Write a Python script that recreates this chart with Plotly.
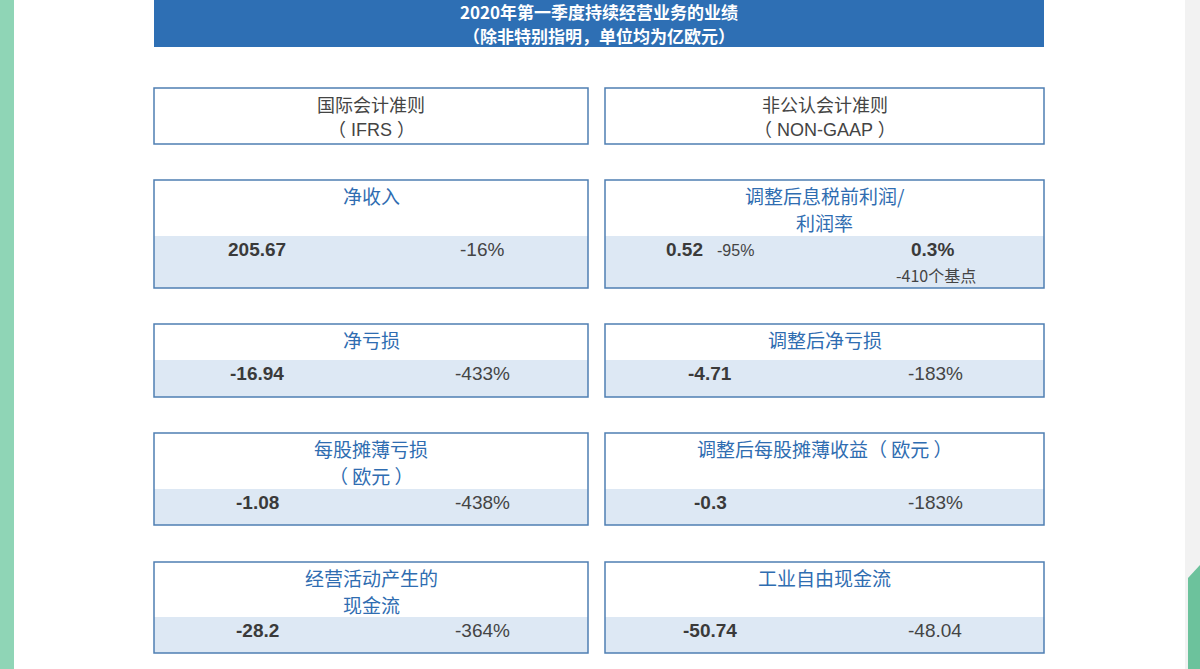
import plotly.graph_objects as go

header_lines = ["2020年第一季度持续经营业务的业绩", "（除非特别指明，单位均为亿欧元）"]
col_titles = [["国际会计准则", "（ IFRS ）"], ["非公认会计准则", "（ NON-GAAP ）"]]
left_titles = ["净收入", "净亏损", "每股摊薄亏损<br>（ 欧元 ）", "经营活动产生的<br>现金流"]
left_values = ["205.67", "-16.94", "-1.08", "-28.2"]
left_changes = ["-16%", "-433%", "-438%", "-364%"]
right_titles = ["调整后息税前利润/<br>利润率", "调整后净亏损", "调整后每股摊薄收益（ 欧元 ）", "工业自由现金流"]
right_values = ["0.52", "-4.71", "-0.3", "-50.74"]
right_changes = ["", "-183%", "-183%", "-48.04"]
margin_value = "0.3%"
margin_change = "-410个基点"
ebit_change = "-95%"

CJK = "Noto Sans CJK SC"
NUM = "Liberation Sans, Noto Sans CJK SC"
BLUE = "#2f6db1"
BORDER = "#4f7fb3"
BAND = "#dde8f4"

fig = go.Figure()
shapes = []
ann = []

def A(x, y, text, color, size, family=CJK):
    ann.append(dict(x=x, y=y, text=text, font=dict(color=color, size=size, family=family),
                    xref="x", yref="y", showarrow=False, xanchor="center", yanchor="middle"))

shapes.append(dict(type="rect", x0=0, x1=14, y0=0, y1=669, fillcolor="#8fd5b6", line_width=0, layer="below"))
shapes.append(dict(type="rect", x0=1185, x1=1200, y0=0, y1=669, fillcolor="#f2f2f2", line_width=0, layer="below"))
shapes.append(dict(type="path", path="M 1200 565 L 1188 578 L 1188 669 L 1200 669 Z", fillcolor="#6cc29c", line_width=0, layer="below"))

shapes.append(dict(type="rect", x0=154, x1=1044, y0=0, y1=47, fillcolor="#2e6fb4", line_width=0))
A(599, 11, "<b>" + header_lines[0] + "</b>", "white", 17)
A(599, 35, "<b>" + header_lines[1] + "</b>", "white", 17)

cols = [(154, 588), (605, 1044)]
for (x0, x1), t in zip(cols, col_titles):
    shapes.append(dict(type="rect", x0=x0, x1=x1, y0=88, y1=144, line=dict(color=BORDER, width=1.5), fillcolor="white"))
    A((x0 + x1) / 2, 104, t[0], "#444", 18)
    A((x0 + x1) / 2, 130, t[1], "#444", 18, NUM)

rows = [(180, 236, 288), (324, 360, 397), (433, 489, 525), (562, 617, 653)]
for i, (top, band, bot) in enumerate(rows):
    for c, (x0, x1) in enumerate(cols):
        shapes.append(dict(type="rect", x0=x0, x1=x1, y0=band, y1=bot, fillcolor=BAND, line_width=0))
        shapes.append(dict(type="rect", x0=x0, x1=x1, y0=top, y1=bot, line=dict(color=BORDER, width=1.5), fillcolor="rgba(0,0,0,0)"))
        titles = left_titles if c == 0 else right_titles
        for k, ln in enumerate(titles[i].split("<br>")):
            A((x0 + x1) / 2, top + 15 + 27 * k, ln, BLUE, 19)
    vy = band + 13
    A(257, vy, "<b>" + left_values[i] + "</b>", "#3a3a3a", 19, NUM)
    A(482, vy, left_changes[i], "#444", 19, NUM)
    if i == 0:
        A(684, vy, "<b>" + right_values[i] + "</b>", "#3a3a3a", 19, NUM)
        A(735, vy + 1, ebit_change, "#444", 16, NUM)
        A(932, vy, "<b>" + margin_value + "</b>", "#3a3a3a", 19, NUM)
        A(936, vy + 26, margin_change, "#444", 16)
    else:
        A(710, vy, "<b>" + right_values[i] + "</b>", "#3a3a3a", 19, NUM)
        A(935, vy, right_changes[i], "#444", 19, NUM)

fig.update_layout(
    width=1200, height=669, margin=dict(l=0, r=0, t=0, b=0),
    paper_bgcolor="white", plot_bgcolor="white",
    xaxis=dict(range=[0, 1200], visible=False, fixedrange=True),
    yaxis=dict(range=[669, 0], visible=False, fixedrange=True),
    shapes=shapes, annotations=ann, showlegend=False,
)
fig.write_html("out.html", config={"displayModeBar": False})
with open("out.html", encoding="utf-8") as f:
    html = f.read()
html = html.replace("<head>", "<head><style>html,body{margin:0;padding:0;overflow:hidden}</style>", 1)
with open("out.html", "w", encoding="utf-8") as f:
    f.write(html)
